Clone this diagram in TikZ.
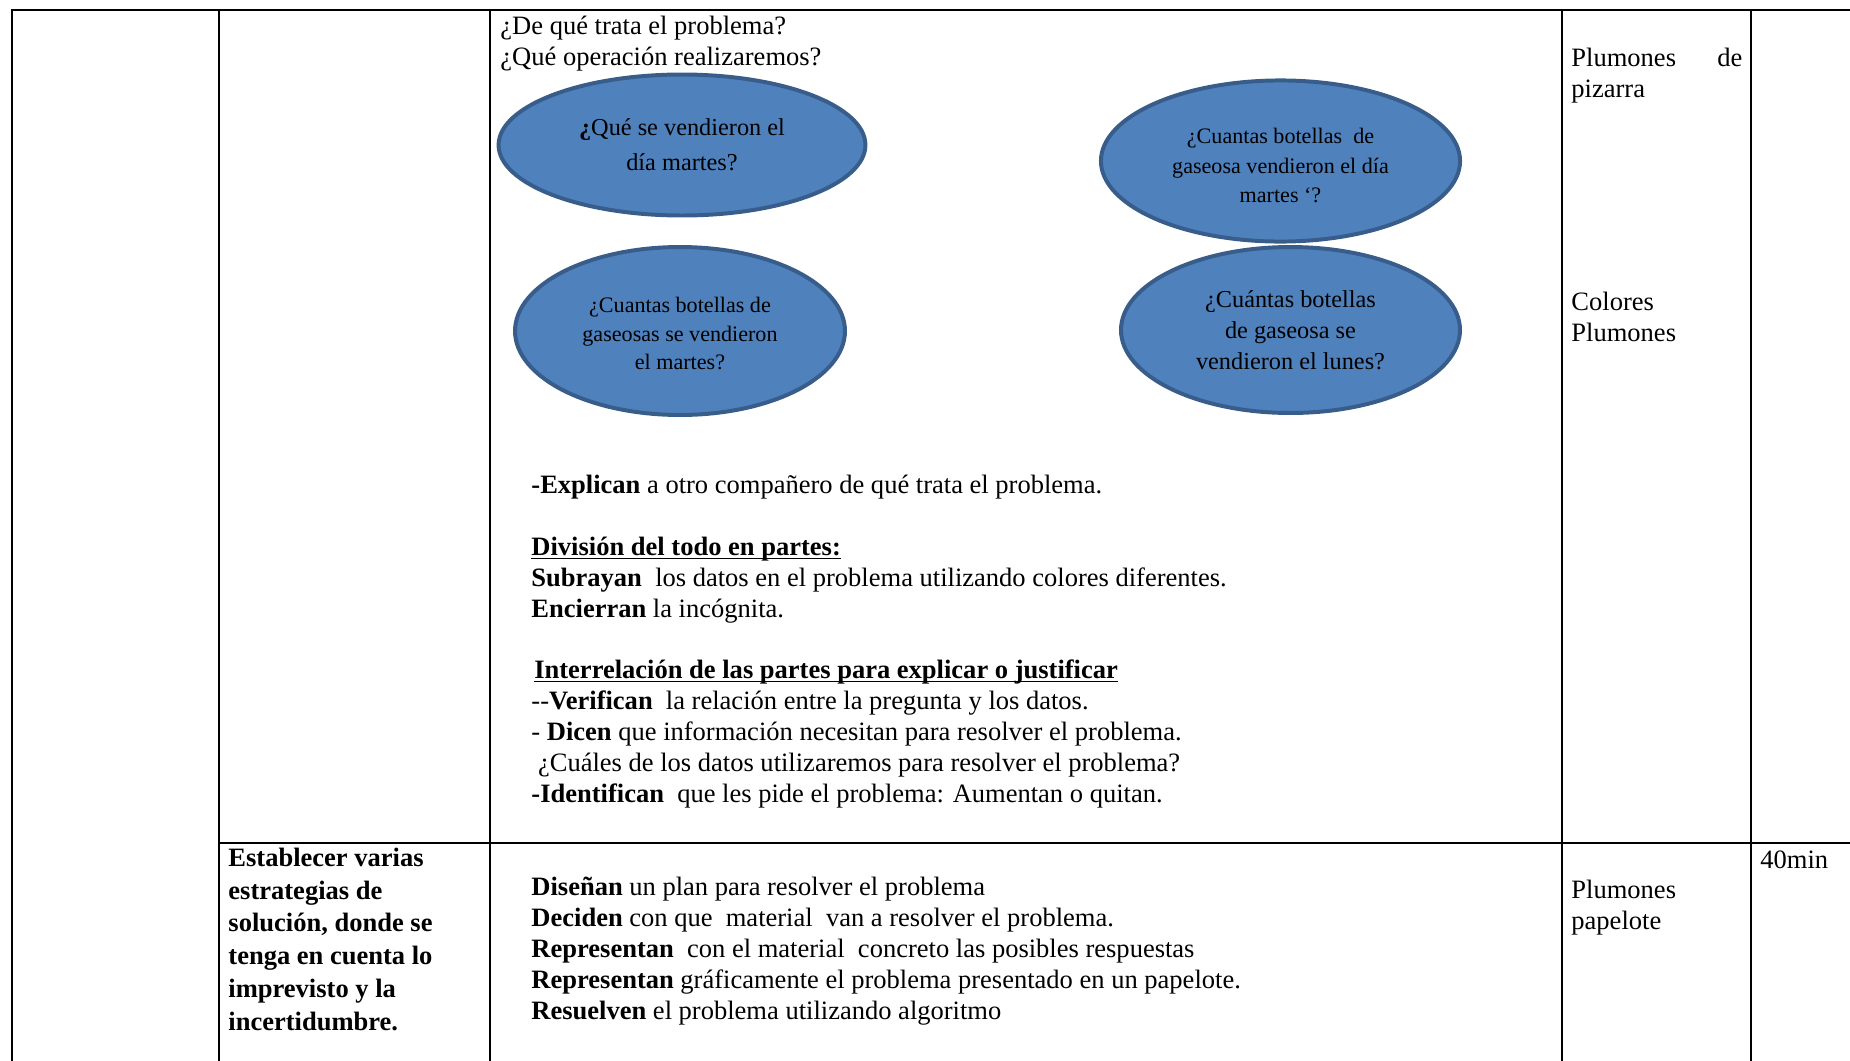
\documentclass[tikz,border=0pt]{standalone}
\usepackage{fontspec}
\setmainfont{Liberation Serif}
\usepackage{xcolor}
\usepackage{tikz}
\usetikzlibrary{shapes.geometric, positioning}
\definecolor{bubbleFill}{HTML}{4F81BD}
\definecolor{bubbleLine}{HTML}{385D8A}
\tikzset{
    tableline/.style={line width=0.95pt, black},
    bubble/.style={ellipse, draw=bubbleLine, line width=1.8pt, fill=bubbleFill, align=center, inner sep=0pt, text=black},
    cell/.style={anchor=base west, align=left, inner sep=0pt, font=\fontsize{12}{13.94}\selectfont},
    head/.style={cell, font=\fontsize{12}{14.8}\selectfont\bfseries}
}
\newcommand{\subtitulo}[1]{\underline{\smash{\textbf{#1}}}}

\begin{document}
\begin{tikzpicture}[x=0.4525pt, y=-0.4525pt]
    \useasboundingbox (0,0) rectangle (1850,1061);

    % Table rules
    \draw[tableline] (12,1061) -- (12,10) -- (1850,10);
    \foreach \x in {219,490,1562,1751}
        \draw[tableline] (\x,10) -- (\x,1061);
    \draw[tableline] (219,843) -- (1850,843);

    % Questions (multi-line cells sit on their last baseline)
    \node[cell] (preguntas) at (500,65) {¿De qué trata el problema?\\¿Qué operación realizaremos?};

    \node[bubble, minimum width=166pt, minimum height=63.8pt, font=\fontsize{11}{15.8}\selectfont] (vendieron) at (682,145)
        {\textbf{¿}Qué se vendieron el\\día martes?};
    \node[bubble, minimum width=162.5pt, minimum height=72.9pt, font=\fontsize{10}{13.3}\selectfont] (martes) at (1280.5,161)
        {\rule{0pt}{11.3pt}¿Cuantas botellas\ \ de\\gaseosa vendieron el día\\martes ‘?};
    \node[bubble, minimum width=149.3pt, minimum height=76pt, font=\fontsize{10}{12.9}\selectfont] (gaseosas) at (680,331)
        {\rule{0pt}{9.5pt}¿Cuantas botellas de\\gaseosas se vendieron\\el martes?};
    \node[bubble, minimum width=153.4pt, minimum height=75.1pt, font=\fontsize{11}{14}\selectfont] (lunes) at (1290.5,330)
        {¿Cuántas botellas\\de gaseosa se\\vendieron el lunes?};

    % Comprension del problema
    \node[cell] (comprension) at (531,802) {%
        \textbf{-Explican} a otro compañero de qué trata el problema.\\[\baselineskip]
        \subtitulo{División del todo en partes:}\\
        \textbf{Subrayan}\ \ los datos en el problema utilizando colores diferentes.\\
        \textbf{Encierran} la incógnita.\\[\baselineskip]
        \hspace{1.3pt}\subtitulo{Interrelación de las partes para explicar o justificar}\\
        -{}-\textbf{Verifican}\ \ la relación entre la pregunta y los datos.\\
        - \textbf{Dicen} que información necesitan para resolver el problema.\\
        \ ¿Cuáles de los datos utilizaremos para resolver el problema?\\
        \textbf{-Identifican}\ \ que les pide el problema: Aumentan o quitan.};

    % Estrategias
    \node[head] (capacidad) at (228,1030) {Establecer varias\\estrategias de\\solución, donde se\\tenga en cuenta lo\\imprevisto y la\\incertidumbre.};
    \node[cell] (plan) at (531,1019) {%
        \textbf{Diseñan} un plan para resolver el problema\\
        \textbf{Deciden} con que\ \ material\ \ van a resolver el problema.\\
        \textbf{Representan}\ \ con el material\ \ concreto las posibles respuestas\\
        \textbf{Representan} gráficamente el problema presentado en un papelote.\\
        \textbf{Resuelven} el problema utilizando algoritmo};

    % Materiales y tiempo
    \node[cell] (pizarra) at (1571,97) {\makebox[77.4pt][s]{Plumones\hfill de}\\pizarra};
    \node[cell] (colores) at (1571,341) {Colores\\Plumones};
    \node[cell] (papelote) at (1571,929) {Plumones\\papelote};
    \node[cell] (tiempo) at (1760,868) {40min};
\end{tikzpicture}
\end{document}
